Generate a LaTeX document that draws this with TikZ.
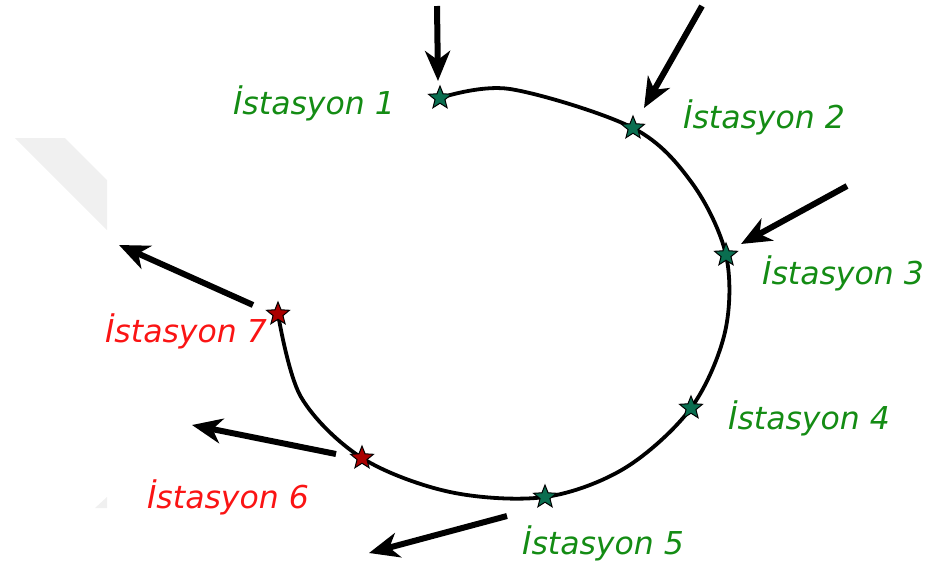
\documentclass[tikz,border=0pt]{standalone}
\usepackage{fontspec}
\setmainfont{DejaVu Sans}
\usetikzlibrary{shapes.geometric,arrows.meta}
\definecolor{lblgreen}{RGB}{20,140,20}
\definecolor{lblred}{RGB}{250,20,20}
\definecolor{stargreen}{RGB}{10,110,80}
\definecolor{starred}{RGB}{170,0,0}
\definecolor{wmark}{RGB}{240,240,240}
\tikzset{
  station/.style={star,star points=5,star point ratio=2.3,minimum size=24pt,inner sep=0pt,draw=black,line width=1pt},
  gstation/.style={station,fill=stargreen},
  rstation/.style={station,fill=starred},
  lbl/.style={font=\fontsize{31.5}{32}\selectfont\itshape,inner sep=0pt,anchor=west},
  glbl/.style={lbl,text=lblgreen},
  rlbl/.style={lbl,text=lblred},
  flow/.style={line width=6pt,-{Stealth[length=30pt,width=25pt,inset=9pt]}},
  track/.style={line width=3.8pt,line join=round}
}
\begin{document}
\begin{tikzpicture}[x=1pt,y=-1pt]
\useasboundingbox (0,0) rectangle (931,566);
% faint background marks
\fill[wmark] (15,138) -- (65,138) -- (107,180) -- (107,230) -- cycle;
\fill[wmark] (95,508) -- (107,497) -- (107,508) -- cycle;
% intermediate points of the track
\coordinate (m1) at (510,89);
\coordinate (m3) at (692,183);
\coordinate (m5) at (725,332);
\coordinate (m7) at (625,468);
\coordinate (m9) at (450,492);
\coordinate (m11) at (301,397);
% station positions
\coordinate (p1) at (440,98);
\coordinate (p2) at (633,128);
\coordinate (p3) at (726,255);
\coordinate (p4) at (691,408);
\coordinate (p5) at (545,497);
\coordinate (p6) at (362,458);
\coordinate (p7) at (278,314);
% track
\draw[track] plot[smooth,tension=0.55] coordinates {(p1) (m1) (p2) (m3) (p3) (m5) (p4) (m7) (p5) (m9) (p6) (m11) (p7)};
% stations
\node[gstation] (s1) at (p1) {};
\node[gstation] (s2) at (p2) {};
\node[gstation] (s3) at (p3) {};
\node[gstation] (s4) at (p4) {};
\node[gstation] (s5) at (p5) {};
\node[rstation] (s6) at (p6) {};
\node[rstation] (s7) at (p7) {};
% arrow end points
\coordinate (i1) at (437,6);
\coordinate (t1) at (438,81);
\coordinate (i2) at (702,6);
\coordinate (t2) at (644,108);
\coordinate (i3) at (847,186);
\coordinate (t3) at (741,244);
\coordinate (o7) at (253,305);
\coordinate (e7) at (119,245);
\coordinate (o6) at (336,454);
\coordinate (e6) at (192,425);
\coordinate (o5) at (507,516);
\coordinate (e5) at (369,553);
\draw[flow] (i1) -- (t1);
\draw[flow] (i2) -- (t2);
\draw[flow] (i3) -- (t3);
\draw[flow] (o7) -- (e7);
\draw[flow] (o6) -- (e6);
\draw[flow] (o5) -- (e5);
% labels
\node[glbl] (l1) at (233,103) {İstasyon 1};
\node[glbl] (l2) at (683,117) {İstasyon 2};
\node[glbl] (l3) at (762,273) {İstasyon 3};
\node[glbl] (l4) at (728,418) {İstasyon 4};
\node[glbl] (l5) at (522,543) {İstasyon 5};
\node[rlbl] (l6) at (147,497) {İstasyon 6};
\node[rlbl] (l7) at (105,331) {İstasyon 7};
\end{tikzpicture}
\end{document}
